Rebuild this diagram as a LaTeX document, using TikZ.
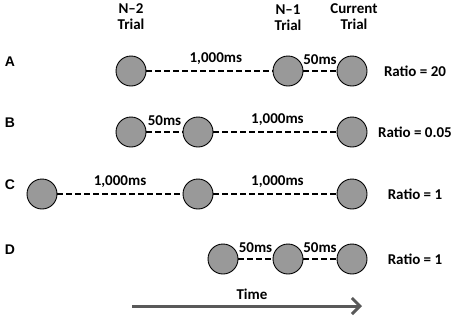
\documentclass[tikz,border=0pt]{standalone}
\usepackage{fontspec}
\setmainfont{Carlito}
\newfontfamily\letterfont{Liberation Sans}
\usepackage{tikz}
\usetikzlibrary{arrows.meta}
\definecolor{dotgray}{HTML}{999999}
\definecolor{timegray}{HTML}{595959}

\begin{document}
\begin{tikzpicture}[x=1pt,y=-1pt,font=\bfseries\fontsize{15}{16}\selectfont,
  trial/.style={circle,draw=black,fill=dotgray,line width=0.9pt,minimum size=30pt,inner sep=0pt},
  gap/.style={black,dash pattern=on 6pt off 3pt,line width=2.6pt},
  lag/.style={anchor=base,inner sep=0pt,yshift=5pt},
  head/.style={align=center,font=\bfseries\fontsize{15}{16}\selectfont}]
  \useasboundingbox (0,0) rectangle (454,317);
  % column heads
  \node[head] (hn2) at (131,17) {N–2\\Trial};
  \node[head] (hn1) at (288,18) {N–1\\Trial};
  \node[head] (hcur) at (354,17) {Current\\Trial};
  % row letter / row y / ratio
  \foreach \rn/\ry/\rr in {A/71/20,B/132/0.05,C/194/1,D/259/1}{
    \node[font=\letterfont\bfseries\fontsize{14}{16}\selectfont] (lab\rn) at (10,\ry-9) {\rn};
    \node (rat\rn) at (415,\ry) {Ratio = \rr};
    \node[trial] (cur\rn) at (352,\ry) {};
  }
  % row A
  \node[trial] (n2A) at (131,71) {};
  \node[trial] (n1A) at (288,71) {};
  \draw[gap] (n2A) -- node[lag,pos=0.55,above]{1,000ms} (n1A);
  \draw[gap] (n1A) -- node[lag,above]{50ms} (curA);
  % row B
  \node[trial] (n2B) at (131,132) {};
  \node[trial] (n1B) at (198,132) {};
  \draw[gap] (n2B) -- node[lag,above]{50ms} (n1B);
  \draw[gap] (n1B) -- node[lag,pos=0.52,above]{1,000ms} (curB);
  % row C
  \node[trial] (n2C) at (42,194) {};
  \node[trial] (n1C) at (198,194) {};
  \draw[gap] (n2C) -- node[lag,above]{1,000ms} (n1C);
  \draw[gap] (n1C) -- node[lag,pos=0.52,above]{1,000ms} (curC);
  % row D
  \node[trial] (n2D) at (223,259) {};
  \node[trial] (n1D) at (288,259) {};
  \draw[gap] (n2D) -- node[lag,above]{50ms} (n1D);
  \draw[gap] (n1D) -- node[lag,above]{50ms} (curD);
  % time axis
  \node (time) at (252,294) {Time};
  \coordinate (t0) at (132,306);
  \coordinate (t1) at (362,306);
  \draw[timegray,line width=3pt,-{Straight Barb[length=8pt,width=16pt]}] (t0) -- (t1);
\end{tikzpicture}
\end{document}
